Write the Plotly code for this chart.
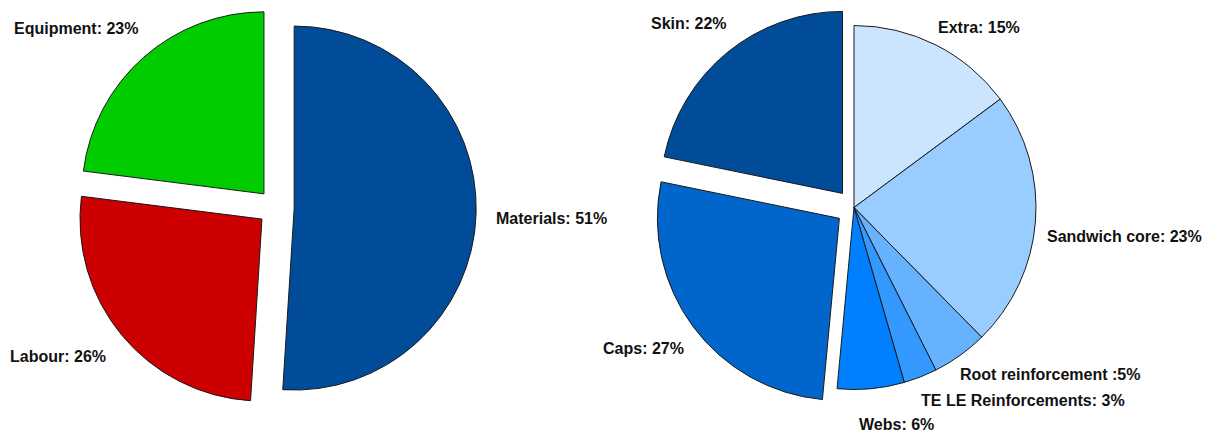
import plotly.graph_objects as go

W, H = 1212, 434

# Overall cost split
cost_labels = ["Materials", "Labour", "Equipment"]
cost_values = [51, 26, 23]
cost_text = ["Materials: 51%", "Labour: 26%", "Equipment: 23%"]

# Material cost split
mat_labels = ["Extra", "Sandwich core", "Root reinforcement", "TE LE Reinforcements",
              "Webs", "Caps", "Skin"]
mat_values = [15, 23, 5, 3, 6, 27, 22]
mat_text = ["Extra: 15%", "Sandwich core: 23%", "Root reinforcement :5%",
            "TE LE Reinforcements: 3%", "Webs: 6%", "Caps: 27%", "Skin: 22%"]

# Styling
cost_colors = ["#004C99", "#CC0000", "#00CC00"]
cost_pull = [0.1, 0.1, 0.1]
mat_colors = ["#CCE5FF", "#99CCFF", "#66B2FF", "#3399FF", "#0080FF", "#0066CC", "#004C99"]
mat_pull = [0, 0, 0, 0, 0, 0.1, 0.1]

# Label anchor points in pixels: (x, y, xanchor)
cost_label_pos = [(494, 218, "left"), (108, 356, "right"), (140, 29, "right")]
mat_label_pos = [(936, 27, "left"), (1045, 236, "left"), (958, 374, "left"),
                 (919, 400, "left"), (857, 424, "left"), (686, 348, "right"),
                 (729, 23, "right")]


def px_domain(cx, cy, size):
    half = size / 2
    return dict(x=[(cx - half) / W, (cx + half) / W],
                y=[1 - (cy + half) / H, 1 - (cy - half) / H])


pie_box = 182 * 2.2

fig = go.Figure()
fig.add_trace(go.Pie(
    labels=cost_labels, values=cost_values, sort=False, direction="clockwise",
    rotation=0, pull=cost_pull, textinfo="none", hovertext=cost_text,
    hoverinfo="text",
    marker=dict(colors=cost_colors, line=dict(color="#1a1a1a", width=1)),
    domain=px_domain(276, 207.5, pie_box), showlegend=False,
))
fig.add_trace(go.Pie(
    labels=mat_labels, values=mat_values, sort=False, direction="clockwise",
    rotation=0, pull=mat_pull, textinfo="none", hovertext=mat_text,
    hoverinfo="text",
    marker=dict(colors=mat_colors, line=dict(color="#1a1a1a", width=1)),
    domain=px_domain(854, 207.5, pie_box), showlegend=False,
))

annotations = []
for txt, (x, y, anchor) in list(zip(cost_text, cost_label_pos)) + list(zip(mat_text, mat_label_pos)):
    annotations.append(dict(
        text=f"<b>{txt}</b>", x=x / W, y=1 - y / H, xref="paper", yref="paper",
        xanchor=anchor, yanchor="middle", showarrow=False,
        font=dict(family="Liberation Sans, Arial, sans-serif", size=16, color="#111111"),
    ))

fig.update_layout(
    width=W, height=H, margin=dict(l=0, r=0, t=0, b=0),
    paper_bgcolor="white", plot_bgcolor="white",
    annotations=annotations,
)

fig.write_html("out.html")
